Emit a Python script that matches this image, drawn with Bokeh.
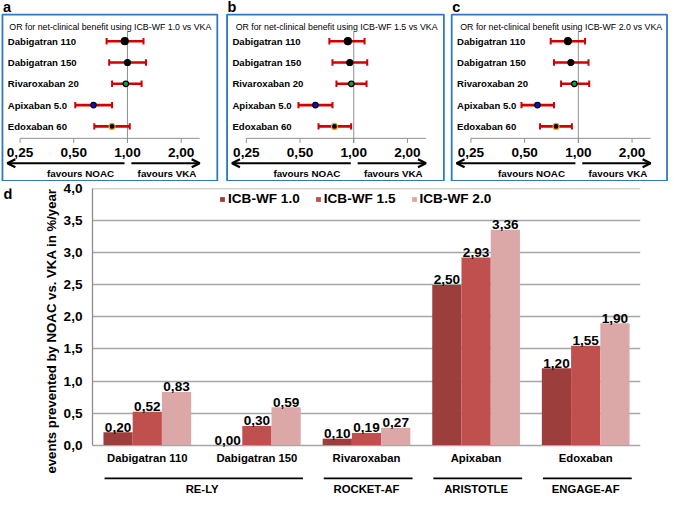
import numpy as np
from math import pi
from bokeh.plotting import figure
from bokeh.layouts import column, row
from bokeh.models import (Range1d, Arrow, OpenHead, Legend, LegendItem, FixedTicker)
from bokeh.core.properties import value
from bokeh.embed import file_html
from bokeh.resources import INLINE

# ---------------- data ----------------
drugs_top = ["Dabigatran 110", "Dabigatran 150", "Rivaroxaban 20", "Apixaban 5.0", "Edoxaban 60"]

or_a = [0.966, 1.00, 0.979, 0.646, 0.82]
lo_a = [0.764, 0.79, 0.82, 0.51, 0.652]
hi_a = [1.23, 1.27, 1.20, 0.82, 1.03]

or_b = [0.927, 0.95, 0.97, 0.61, 0.78]
lo_b = [0.73, 0.76, 0.80, 0.49, 0.635]
hi_b = [1.15, 1.19, 1.18, 0.76, 0.967]

or_c = [0.875, 0.908, 0.95, 0.59, 0.75]
lo_c = [0.70, 0.73, 0.80, 0.48, 0.61]
hi_c = [1.09, 1.14, 1.15, 0.73, 0.92]

wf_versions = ["1.0", "1.5", "2.0"]
or_ticks = [0.25, 0.5, 1.0, 2.0]
or_tick_labels = ["0,25", "0,50", "1,00", "2,00"]
or_axis_end = 2.54
favours_labels = ["favours NOAC", "favours VKA"]

bar_categories = ["Dabigatran 110", "Dabigatran 150", "Rivaroxaban", "Apixaban", "Edoxaban"]
ev_wf10 = [0.20, 0.00, 0.10, 2.50, 1.20]
ev_wf15 = [0.52, 0.30, 0.19, 2.93, 1.55]
ev_wf20 = [0.83, 0.59, 0.27, 3.36, 1.90]
series_labels = ["ICB-WF 1.0", "ICB-WF 1.5", "ICB-WF 2.0"]

trials = ["RE-LY", "ROCKET-AF", "ARISTOTLE", "ENGAGE-AF"]
trial_first = [0, 2, 3, 4]
trial_last = [1, 2, 3, 4]

y_ticks = [0.0, 0.5, 1.0, 1.5, 2.0, 2.5, 3.0, 3.5, 4.0]
y_tick_labels = ["0,0", "0,5", "1,0", "1,5", "2,0", "2,5", "3,0", "3,5", "4,0"]
y_title = "events prevented by NOAC vs. VKA in %/year"
panel_letters = ["a", "b", "c", "d"]

# ---------------- styles / layout ----------------
FONT_NAME = "Liberation Sans"
FONT = value(FONT_NAME)
BOX_BLUE = "#2f78bd"
ERR_RED = "#d00000"
GRAY = "#909090"
BAR_COLORS = ["#9c3e3c", "#c0504d", "#dba8a7"]
PT_FILL = ["black", "black", "#00a651", "#1010c8", "black"]
PT_LINE = ["black", "black", "black", "black", "#f39a28"]
PT_SIZE = [7, 6, 5.5, 5.5, 6]

SX, SY = 668 / 684, 494 / 510       # reference-pixel -> page-pixel
H_TOP = 181
ROW0_REF, ROW_STEP_REF = 42.0, 22.0  # reference-pixel row geometry of the forest panels
PX_PER_DOUBLING_REF = 55.0


def yd(y_ref):
    """reference pixel row -> forest-panel row units"""
    return (y_ref - ROW0_REF) / ROW_STEP_REF


def forest_panel(letter, wf, orv, lo, hi, width, fig_ref, box_ref, one_ref):
    lg = lambda x_ref: 2.0 ** ((x_ref - one_ref) / PX_PER_DOUBLING_REF)
    y_top_ref, y_bot_ref = 0.0, H_TOP / SY
    p = figure(width=width, height=H_TOP, min_border=0, title=None,
               x_axis_type="log", x_axis_location=None, y_axis_location=None,
               x_range=Range1d(lg(fig_ref[0]), lg(fig_ref[1])),
               y_range=Range1d(yd(y_bot_ref), yd(y_top_ref)),
               toolbar_location=None, output_backend="svg", outline_line_color=None,
               background_fill_color="white", border_fill_color="white")
    p.grid.visible = False
    rows = np.arange(len(drugs_top), dtype=float)
    bx0, bx1 = lg(box_ref[0]), lg(box_ref[1])
    # panel frame (blue box)
    p.quad(left=[bx0], right=[bx1], top=[yd(14.5)], bottom=[yd(186.3)],
           fill_color=None, line_color=BOX_BLUE, line_width=1.8)
    ax_y, tick_y = yd(142.3), yd(147.0)
    # reference line at OR = 1
    p.segment(x0=[1.0], y0=[yd(32)], x1=[1.0], y1=[tick_y], line_color=GRAY, line_width=1)
    # axis
    p.segment(x0=[or_ticks[0]], y0=[ax_y], x1=[or_axis_end], y1=[ax_y], line_color=GRAY, line_width=1)
    p.segment(x0=or_ticks, y0=[ax_y] * len(or_ticks), x1=or_ticks,
              y1=[tick_y] * len(or_ticks), line_color=GRAY, line_width=1)
    p.text(x=or_ticks, y=[yd(157)] * len(or_ticks), text=or_tick_labels, text_font=FONT,
           text_font_style="bold", text_font_size="13.6px", text_align="center",
           text_baseline="middle", text_color="black")
    # confidence intervals and point estimates
    p.segment(x0=lo, y0=rows, x1=hi, y1=rows, line_color=ERR_RED, line_width=2.6)
    p.segment(x0=lo, y0=rows - 0.15, x1=lo, y1=rows + 0.15, line_color=ERR_RED, line_width=2)
    p.segment(x0=hi, y0=rows - 0.15, x1=hi, y1=rows + 0.15, line_color=ERR_RED, line_width=2)
    p.scatter(x=orv, y=rows, size=PT_SIZE, fill_color=PT_FILL, line_color=PT_LINE, line_width=1.2)
    # texts
    p.text(x=[lg(box_ref[0] + 5.5)] * len(drugs_top), y=rows, text=drugs_top, text_font=FONT,
           text_font_style="bold", text_font_size="9.6px", text_align="left",
           text_baseline="middle", text_color="black")
    p.text(x=[lg(one_ref - 16.3)], y=[yd(27)],
           text=[f"OR for net-clinical benefit using ICB-WF  {wf} vs VKA"],
           text_font=FONT, text_font_size="8.8px", text_align="center",
           text_baseline="middle", text_color="black")
    arr_y = yd(168)
    head = dict(size=8, line_width=2.2, line_color="black")
    p.add_layout(Arrow(end=OpenHead(**head), x_start=lg(one_ref - 3), y_start=arr_y,
                       x_end=lg(box_ref[0] + 5), y_end=arr_y, line_width=2.2, line_color="black"))
    p.add_layout(Arrow(end=OpenHead(**head), x_start=lg(one_ref + 4), y_start=arr_y,
                       x_end=or_axis_end, y_end=arr_y, line_width=2.2, line_color="black"))
    p.text(x=[lg(one_ref - 48), lg(one_ref + 40.5)], y=[yd(178.3)] * 2, text=favours_labels,
           text_font=FONT, text_font_style="bold", text_font_size="9.8px", text_align="center",
           text_baseline="middle", text_color="black")
    p.text(x=[lg(box_ref[0] + 0.5)], y=[yd(6.8)], text=[letter], text_font=FONT,
           text_font_style="bold", text_font_size="14.5px", text_align="left",
           text_baseline="middle", text_color="black")
    return p


fa = forest_panel(panel_letters[0], wf_versions[0], or_a, lo_a, hi_a, 222,
                  (0.0, 222 / SX), (2.0, 222.0), 130.0)
fb = forest_panel(panel_letters[1], wf_versions[1], or_b, lo_b, hi_b, 225,
                  (222 / SX, 447 / SX), (232.0, 454.0), 361.7)
fc = forest_panel(panel_letters[2], wf_versions[2], or_c, lo_c, hi_c, 221,
                  (447 / SX, 684.0), (462.0, 682.5), 591.7)

# ---------------- bar chart ----------------
n = len(bar_categories)
H_BOT = 494 - H_TOP
yr = Range1d(-0.771, 4.005)
pb = figure(width=608, height=H_BOT, min_border_left=31, min_border_right=28,
            min_border_top=7, min_border_bottom=0,
            x_range=Range1d(0, n), y_range=yr,
            x_axis_location=None, toolbar_location=None, output_backend="svg",
            outline_line_color=None, background_fill_color="white", border_fill_color="white")
pb.xgrid.visible = False
ticker = FixedTicker(ticks=y_ticks)
pb.yaxis.ticker = ticker
pb.ygrid.ticker = ticker
pb.ygrid.grid_line_color = "#a6a6a6"
pb.ygrid.grid_line_width = 1.3
pb.yaxis.major_label_overrides = {t: l for t, l in zip(y_ticks, y_tick_labels)}
pb.yaxis.bounds = (y_ticks[0], y_ticks[-1])
pb.yaxis.axis_line_color = "#8c8c8c"
pb.yaxis.axis_line_width = 1.3
pb.yaxis.major_tick_out = 0
pb.yaxis.major_tick_in = 0
pb.yaxis.minor_tick_out = 0
pb.yaxis.minor_tick_in = 0
pb.yaxis.major_tick_line_color = None
pb.yaxis.minor_tick_line_color = None
pb.yaxis.major_label_standoff = 10
pb.yaxis.major_label_text_font = FONT_NAME
pb.yaxis.major_label_text_font_style = "bold"
pb.yaxis.major_label_text_font_size = "13.6px"
pb.yaxis.major_label_text_color = "black"

centers = np.arange(n) + 0.5
bar_w = 0.8 / 3
series = [ev_wf10, ev_wf15, ev_wf20]
renderers = []
for k, vals in enumerate(series):
    xs = centers + (k - 1) * bar_w
    r = pb.vbar(x=xs, top=vals, width=bar_w, fill_color=BAR_COLORS[k], line_color=None)
    renderers.append(r)
    pb.text(x=xs, y=vals, text=[f"{v:.2f}".replace(".", ",") for v in vals],
            text_font=FONT, text_font_style="bold", text_font_size="13.6px",
            text_align="center", text_baseline="alphabetic", y_offset=-5,
            text_color="black")

pb.text(x=centers, y=[-0.196] * n, text=bar_categories, text_font=FONT,
        text_font_style="bold", text_font_size="11.3px", text_align="center",
        text_baseline="middle", text_color="black")

tf = np.array(trial_first, dtype=float)
tl = np.array(trial_last, dtype=float)
pb.segment(x0=tf + 0.11, y0=[-0.518] * len(trials), x1=tl + 1 - 0.08, y1=[-0.518] * len(trials),
           line_color="black", line_width=1.8)
pb.text(x=(tf + tl + 1) / 2, y=[-0.69] * len(trials), text=trials, text_font=FONT,
        text_font_style="bold", text_font_size="11.3px", text_align="center",
        text_baseline="middle", text_color="black")

legend = Legend(items=[LegendItem(label=l, renderers=[r]) for l, r in zip(series_labels, renderers)],
                location=(127, 288), orientation="horizontal", glyph_width=6, glyph_height=6,
                label_standoff=3, spacing=15, padding=0, margin=0, border_line_color=None,
                background_fill_alpha=0, label_text_font=FONT_NAME, label_text_font_style="bold",
                label_text_font_size="13.6px", label_height=14, label_text_color="black")
pb.add_layout(legend)

# left strip carrying the panel letter and the rotated y-axis title
pl = figure(width=60, height=H_BOT, min_border_left=0, min_border_right=0,
            min_border_top=7, min_border_bottom=0,
            x_range=Range1d(0, 1), y_range=yr,
            x_axis_location=None, y_axis_location=None, toolbar_location=None,
            output_backend="svg", outline_line_color=None,
            background_fill_color="white", border_fill_color="white")
pl.grid.visible = False
pl.text(x=[0.847], y=[1.78], text=[y_title], angle=pi / 2, text_font=FONT,
        text_font_style="bold", text_font_size="13.2px", text_align="center",
        text_baseline="middle", text_color="black")
pl.text(x=[0.049], y=[3.925], text=[panel_letters[3]], text_font=FONT,
        text_font_style="bold", text_font_size="14.5px", text_align="left",
        text_baseline="middle", text_color="black")

layout = column(row(fa, fb, fc), row(pl, pb))
open("out.html", "w").write(file_html(layout, INLINE))
